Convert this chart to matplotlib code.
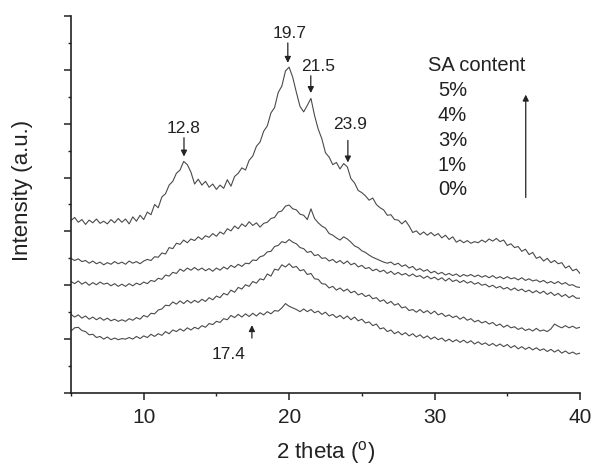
import numpy as np
import matplotlib
matplotlib.use('Agg')
import matplotlib.pyplot as plt
from matplotlib.ticker import MultipleLocator

plt.rcParams['font.family'] = ['Liberation Sans', 'DejaVu Sans']
plt.rcParams['mathtext.fontset'] = 'custom'
plt.rcParams['mathtext.rm'] = 'Liberation Sans'

# scan grid, 0.25 deg step
two_theta = np.linspace(5, 40, 141)

# intensities (arbitrary units, curves already offset)
sa_0 = [1.15, 1.21, 1.22, 1.16, 1.14, 1.08, 1.09, 1.03, 1.05, 1.00,
        1.04, 0.99, 1.02, 0.99, 1.01, 1.00, 1.03, 1.00, 1.05, 1.01,
        1.06, 1.03, 1.09, 1.05, 1.10, 1.07, 1.14, 1.10, 1.17, 1.14,
        1.19, 1.15, 1.21, 1.17, 1.22, 1.19, 1.25, 1.22, 1.29, 1.27,
        1.33, 1.31, 1.38, 1.36, 1.44, 1.40, 1.46, 1.41, 1.47, 1.42,
        1.48, 1.43, 1.49, 1.45, 1.51, 1.47, 1.53, 1.52, 1.58, 1.66,
        1.61, 1.58, 1.55, 1.51, 1.56, 1.51, 1.55, 1.49, 1.52, 1.46,
        1.50, 1.43, 1.46, 1.40, 1.44, 1.38, 1.43, 1.36, 1.41, 1.34,
        1.37, 1.30, 1.32, 1.25, 1.28, 1.19, 1.21, 1.14, 1.17, 1.10,
        1.14, 1.08, 1.12, 1.06, 1.10, 1.04, 1.08, 1.02, 1.06, 1.00,
        1.04, 0.99, 1.02, 0.96, 1.00, 0.95, 0.99, 0.94, 0.98, 0.93,
        0.97, 0.91, 0.95, 0.90, 0.93, 0.88, 0.92, 0.87, 0.91, 0.86,
        0.90, 0.84, 0.88, 0.82, 0.86, 0.81, 0.85, 0.80, 0.84, 0.79,
        0.82, 0.77, 0.81, 0.76, 0.80, 0.74, 0.78, 0.73, 0.76, 0.72,
        0.74]

sa_1 = [1.46, 1.41, 1.45, 1.39, 1.43, 1.37, 1.41, 1.36, 1.40, 1.35,
        1.39, 1.34, 1.37, 1.33, 1.36, 1.33, 1.38, 1.35, 1.40, 1.37,
        1.44, 1.41, 1.48, 1.47, 1.54, 1.56, 1.63, 1.62, 1.69, 1.65,
        1.71, 1.66, 1.72, 1.67, 1.72, 1.68, 1.74, 1.70, 1.77, 1.73,
        1.80, 1.77, 1.85, 1.82, 1.91, 1.87, 1.96, 1.93, 2.01, 1.98,
        2.07, 2.04, 2.12, 2.10, 2.21, 2.17, 2.30, 2.28, 2.38, 2.34,
        2.40, 2.33, 2.35, 2.27, 2.29, 2.20, 2.22, 2.12, 2.11, 2.03,
        2.02, 1.95, 1.98, 1.91, 1.95, 1.89, 1.93, 1.86, 1.89, 1.82,
        1.85, 1.79, 1.82, 1.75, 1.77, 1.70, 1.73, 1.66, 1.70, 1.63,
        1.66, 1.58, 1.60, 1.53, 1.55, 1.50, 1.55, 1.49, 1.53, 1.47,
        1.52, 1.45, 1.48, 1.42, 1.45, 1.40, 1.43, 1.37, 1.41, 1.35,
        1.38, 1.32, 1.35, 1.30, 1.33, 1.28, 1.31, 1.25, 1.28, 1.22,
        1.26, 1.21, 1.23, 1.18, 1.21, 1.16, 1.19, 1.15, 1.20, 1.15,
        1.17, 1.14, 1.19, 1.28, 1.24, 1.21, 1.25, 1.21, 1.24, 1.20,
        1.22]

sa_3 = [2.07, 2.03, 2.08, 2.02, 2.06, 2.00, 2.05, 2.01, 2.06, 2.02,
        2.04, 1.99, 2.03, 1.98, 2.02, 1.98, 2.03, 1.99, 2.04, 2.01,
        2.06, 2.03, 2.09, 2.07, 2.13, 2.11, 2.19, 2.17, 2.24, 2.22,
        2.30, 2.26, 2.32, 2.28, 2.33, 2.28, 2.32, 2.27, 2.31, 2.26,
        2.32, 2.28, 2.34, 2.30, 2.37, 2.33, 2.39, 2.35, 2.41, 2.40,
        2.47, 2.46, 2.53, 2.55, 2.62, 2.63, 2.72, 2.74, 2.81, 2.79,
        2.85, 2.80, 2.77, 2.70, 2.68, 2.61, 2.63, 2.55, 2.57, 2.50,
        2.51, 2.45, 2.48, 2.42, 2.46, 2.40, 2.45, 2.38, 2.41, 2.34,
        2.37, 2.31, 2.33, 2.27, 2.30, 2.25, 2.28, 2.22, 2.26, 2.20,
        2.24, 2.19, 2.22, 2.17, 2.21, 2.16, 2.18, 2.13, 2.17, 2.12,
        2.15, 2.10, 2.14, 2.08, 2.13, 2.07, 2.10, 2.05, 2.09, 2.04,
        2.07, 2.02, 2.05, 2.00, 2.02, 1.97, 2.00, 1.95, 1.98, 1.93,
        1.96, 1.91, 1.95, 1.90, 1.93, 1.88, 1.91, 1.86, 1.90, 1.85,
        1.89, 1.83, 1.87, 1.81, 1.85, 1.79, 1.83, 1.77, 1.81, 1.76,
        1.76]

sa_4 = [2.50, 2.46, 2.49, 2.44, 2.46, 2.41, 2.45, 2.40, 2.43, 2.38,
        2.42, 2.39, 2.44, 2.40, 2.43, 2.39, 2.45, 2.41, 2.44, 2.40,
        2.45, 2.48, 2.46, 2.53, 2.52, 2.60, 2.58, 2.70, 2.68, 2.78,
        2.76, 2.84, 2.79, 2.86, 2.83, 2.90, 2.85, 2.92, 2.89, 2.96,
        2.91, 2.99, 2.95, 3.05, 3.01, 3.10, 3.05, 3.14, 3.09, 3.18,
        3.11, 3.16, 3.08, 3.15, 3.17, 3.24, 3.26, 3.36, 3.38, 3.47,
        3.49, 3.42, 3.40, 3.32, 3.30, 3.22, 3.42, 3.24, 3.16, 3.10,
        3.06, 2.96, 2.93, 2.88, 2.84, 2.90, 2.86, 2.80, 2.73, 2.70,
        2.64, 2.61, 2.56, 2.52, 2.49, 2.46, 2.43, 2.41, 2.43, 2.38,
        2.41, 2.35, 2.38, 2.32, 2.35, 2.28, 2.31, 2.26, 2.29, 2.23,
        2.26, 2.21, 2.24, 2.19, 2.22, 2.18, 2.21, 2.16, 2.20, 2.17,
        2.20, 2.16, 2.19, 2.15, 2.18, 2.14, 2.18, 2.13, 2.16, 2.12,
        2.16, 2.12, 2.14, 2.10, 2.14, 2.09, 2.12, 2.08, 2.10, 2.06,
        2.09, 2.04, 2.07, 2.03, 2.07, 2.02, 2.05, 2.00, 2.01, 1.97,
        1.96]

sa_5 = [3.20, 3.26, 3.17, 3.22, 3.13, 3.21, 3.16, 3.23, 3.15, 3.19,
        3.14, 3.22, 3.16, 3.24, 3.17, 3.23, 3.14, 3.27, 3.19, 3.30,
        3.22, 3.36, 3.31, 3.50, 3.44, 3.64, 3.70, 3.86, 3.93, 4.08,
        4.14, 4.30, 4.24, 4.10, 3.88, 3.97, 3.86, 3.93, 3.82, 3.88,
        3.78, 3.86, 3.80, 3.96, 3.84, 4.02, 4.08, 4.18, 4.14, 4.32,
        4.40, 4.58, 4.66, 4.86, 4.96, 5.20, 5.30, 5.58, 5.70, 5.98,
        6.05, 5.86, 5.58, 5.32, 5.22, 5.34, 5.47, 5.15, 4.90, 4.72,
        4.46, 4.38, 4.24, 4.28, 4.16, 4.26, 4.20, 3.98, 3.90, 3.76,
        3.72, 3.66, 3.58, 3.62, 3.50, 3.44, 3.40, 3.30, 3.31, 3.22,
        3.21, 3.14, 3.20, 3.10, 2.98, 3.01, 2.94, 2.99, 2.93, 2.98,
        2.92, 2.96, 2.88, 2.93, 2.85, 2.90, 2.80, 2.84, 2.79, 2.83,
        2.78, 2.81, 2.79, 2.84, 2.80, 2.86, 2.82, 2.87, 2.81, 2.84,
        2.74, 2.77, 2.70, 2.72, 2.63, 2.67, 2.57, 2.61, 2.50, 2.53,
        2.45, 2.50, 2.42, 2.46, 2.40, 2.42, 2.32, 2.36, 2.27, 2.30,
        2.22]

series = [sa_0, sa_1, sa_3, sa_4, sa_5]
content_labels = ['5%', '4%', '3%', '1%', '0%']

# peak annotations: (label, arrow x, arrow tail y, arrow tip y, text x, text y)
peaks = [
    ('12.8', 12.77, 4.74, 4.39, 12.77, 4.91),
    ('19.7', 19.91, 6.50, 6.13, 20.05, 6.67),
    ('21.5', 21.49, 5.89, 5.57, 21.98, 6.07),
    ('23.9', 24.04, 4.69, 4.28, 24.18, 4.98),
    ('17.4', 17.44, 1.02, 1.26, 15.86, 0.72),
]

fig = plt.figure(figsize=(5.94, 4.68), dpi=100)
ax = fig.add_axes([0.1195, 0.1603, 0.8569, 0.8055])

for y in series:
    ax.plot(two_theta, y, color='#4a4a4a', lw=0.8)

ink = '#222222'
for lab, ax_x, y0, y1, tx, ty in peaks:
    ax.annotate('', xy=(ax_x, y1), xytext=(ax_x, y0),
                arrowprops=dict(arrowstyle='-|>', color=ink, lw=0.9,
                                mutation_scale=9, shrinkA=0, shrinkB=0))
    ax.text(tx, ty, lab, fontsize=12.5, color=ink, ha='center', va='center')

ax.text(32.9, 6.09, 'SA content', fontsize=14.5, color=ink, ha='center', va='center')
for i, lab in enumerate(content_labels):
    ax.text(30.22, 5.61 - i * 0.46, lab, fontsize=14.5, color=ink,
            ha='left', va='center')
ax.annotate('', xy=(36.27, 5.54), xytext=(36.27, 3.63),
            arrowprops=dict(arrowstyle='-|>', color=ink, lw=0.9,
                            mutation_scale=9, shrinkA=0, shrinkB=0))

ax.set_xlim(5, 40)
ax.set_ylim(0, 7)
ax.spines['top'].set_visible(False)
ax.spines['right'].set_visible(False)
for s in ('left', 'bottom'):
    ax.spines[s].set_linewidth(1.2)
    ax.spines[s].set_color(ink)

ax.xaxis.set_major_locator(MultipleLocator(10))
ax.xaxis.set_minor_locator(MultipleLocator(5))
ax.yaxis.set_major_locator(MultipleLocator(1))
ax.yaxis.set_minor_locator(MultipleLocator(0.5))
ax.tick_params(which='major', direction='out', length=5, width=1.1, color=ink,
               labelsize=15, labelcolor=ink, pad=6)
ax.tick_params(which='minor', direction='out', length=2.5, width=1.0, color=ink)
ax.tick_params(axis='y', which='both', labelleft=False)

ax.set_xlabel(r'2 theta ($^{\mathrm{o}}$)', fontsize=16, color=ink)
ax.xaxis.set_label_coords(0.5, -0.122)
ax.set_ylabel('Intensity (a.u.)', fontsize=16, color=ink)
ax.yaxis.set_label_coords(-0.075, 0.538)

fig.savefig('out.png', dpi=100)
